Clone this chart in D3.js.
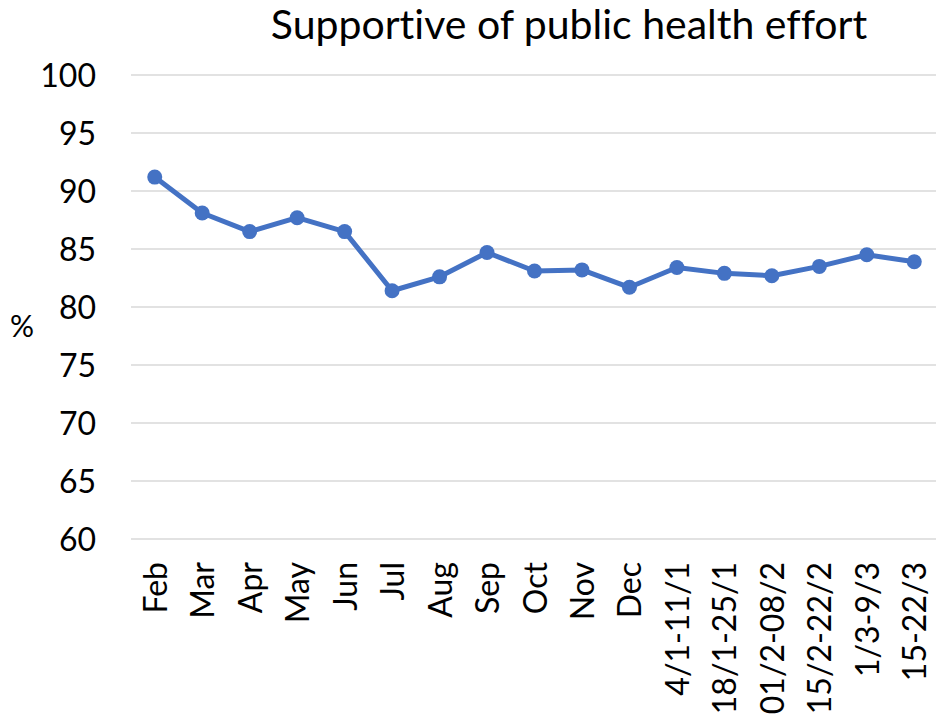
<!DOCTYPE html>
<html>
<head>
<meta charset="utf-8">
<script src="https://cdn.jsdelivr.net/npm/d3@7"></script>
<style>
  html, body { margin: 0; padding: 0; background: #fff; }
  svg { display: block; }
  text { font-family: Lato, "Open Sans", sans-serif; fill: #000;
         font-variant-ligatures: none; font-feature-settings: "liga" 0, "dlig" 0; }
</style>
</head>
<body>
<svg id="chart" width="936" height="719"></svg>
<script>
// Survey periods and share supportive (%)
const categories = ["Feb", "Mar", "Apr", "May", "Jun", "Jul", "Aug", "Sep", "Oct", "Nov", "Dec",
  "4/1-11/1", "18/1-25/1", "01/2-08/2", "15/2-22/2", "1/3-9/3", "15-22/3"];
const supportive = [91.2, 88.1, 86.5, 87.7, 86.5, 81.4, 82.6, 84.7, 83.1, 83.2, 81.7,
  83.4, 82.9, 82.7, 83.5, 84.5, 83.9];
const yTicks = [60, 65, 70, 75, 80, 85, 90, 95, 100];
const titleText = "Supportive of public health effort";
const yLabel = "%";

const svg = d3.select("#chart");
const margin = { left: 131, right: -2, top: 75, bottom: 180 };
const W = 936, H = 719;

const x = d3.scalePoint()
  .domain(categories)
  .range([margin.left, W - margin.right])
  .padding(0.5);

const y = d3.scaleLinear()
  .domain([60, 100])
  .range([H - margin.bottom, margin.top]);

// horizontal gridlines
svg.append("g")
  .selectAll("line")
  .data(yTicks)
  .join("line")
  .attr("x1", margin.left)
  .attr("x2", W - margin.right)
  .attr("y1", d => y(d))
  .attr("y2", d => y(d))
  .attr("stroke", "#d9d9d9")
  .attr("stroke-width", 1.5);

// y-axis tick labels
const yAxis = svg.append("g")
  .attr("transform", `translate(${margin.left - 35},0)`)
  .call(d3.axisLeft(y).tickValues(yTicks).tickSize(0).tickPadding(0));
yAxis.select(".domain").remove();
yAxis.selectAll("text")
  .style("font-family", "Lato, sans-serif")
  .style("font-size", "32px")
  .attr("fill", "#000")
  .attr("dy", "0.35em");

// x-axis category labels, rotated
const xAxis = svg.append("g")
  .attr("transform", `translate(0,${H - margin.bottom + 23})`)
  .call(d3.axisBottom(x).tickSize(0).tickPadding(0));
xAxis.select(".domain").remove();
xAxis.selectAll("text")
  .style("font-family", "Lato, sans-serif")
  .style("font-size", "32px")
  .attr("fill", "#000")
  .attr("text-anchor", "end")
  .attr("transform", "rotate(-90)")
  .attr("x", 0)
  .attr("y", 0)
  .attr("dy", "0.36em");

// series line
svg.append("path")
  .datum(supportive)
  .attr("fill", "none")
  .attr("stroke", "#4472C4")
  .attr("stroke-width", 5)
  .attr("stroke-linejoin", "round")
  .attr("d", d3.line()
    .x((d, i) => x(categories[i]))
    .y(d => y(d)));

// markers
svg.append("g")
  .selectAll("circle")
  .data(supportive)
  .join("circle")
  .attr("cx", (d, i) => x(categories[i]))
  .attr("cy", d => y(d))
  .attr("r", 7.5)
  .attr("fill", "#4472C4");

// title
svg.append("text")
  .attr("x", 569)
  .attr("y", 39)
  .attr("text-anchor", "middle")
  .style("font-size", "41px")
  .text(titleText);

// y-axis label
svg.append("text")
  .attr("x", 22)
  .attr("y", 337)
  .attr("text-anchor", "middle")
  .style("font-size", "30px")
  .text(yLabel);
</script>
</body>
</html>
